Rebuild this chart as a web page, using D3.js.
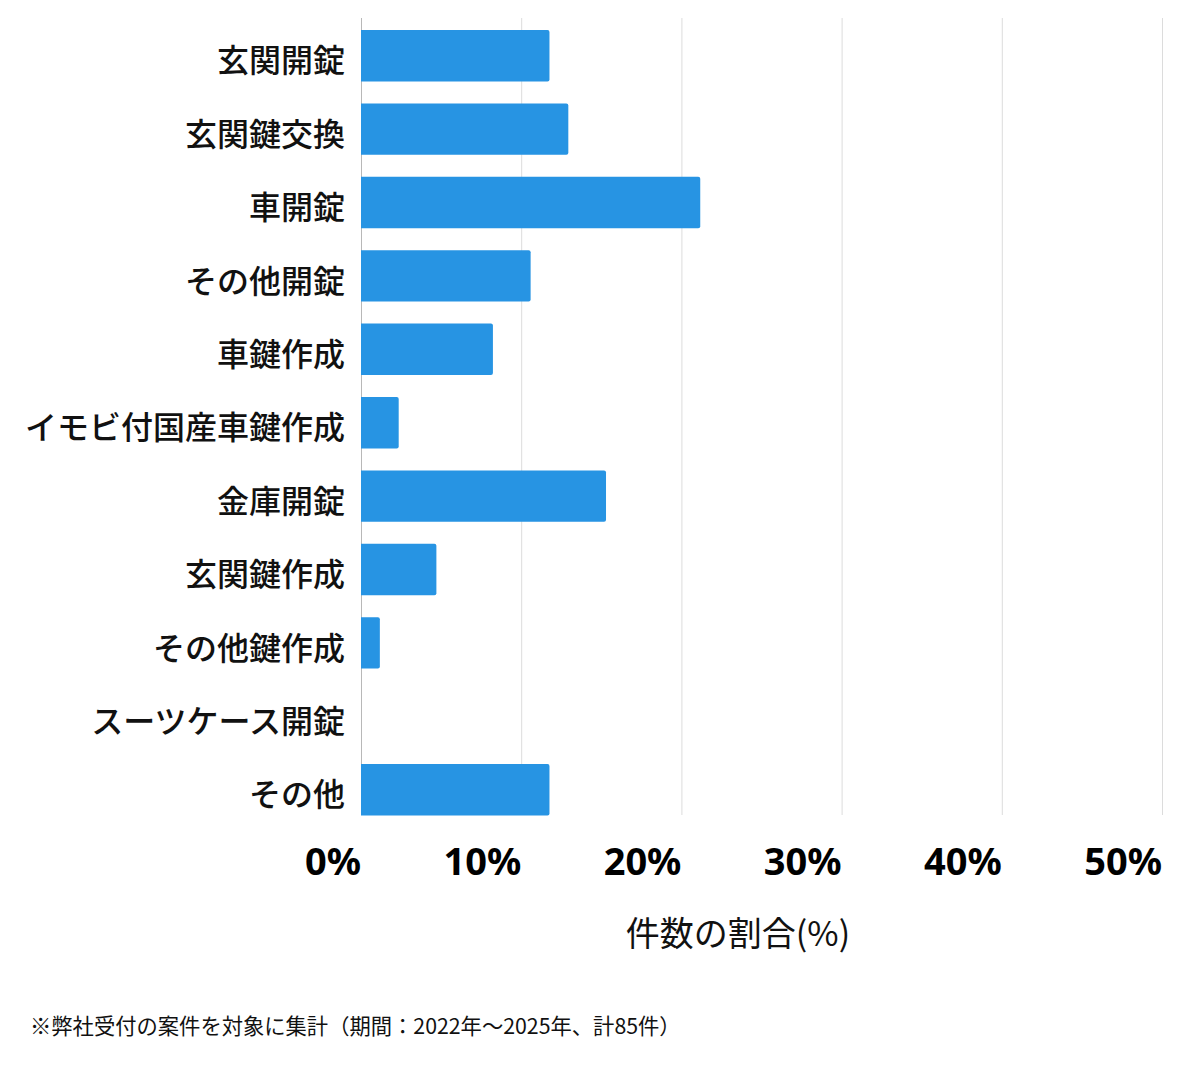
<!DOCTYPE html>
<html><head><meta charset="utf-8">
<script src="https://cdn.jsdelivr.net/npm/d3@7"></script>
<style>body{margin:0;background:#fff;}svg{display:block;}</style>
</head><body>
<svg id="c" width="1200" height="1069"></svg>
<script>
const categories = ["玄関開錠","玄関鍵交換","車開錠","その他開錠","車鍵作成","イモビ付国産車鍵作成","金庫開錠","玄関鍵作成","その他鍵作成","スーツケース開錠","その他"];
const counts = [10,11,18,9,7,2,13,4,1,0,10];
const total = 85;
const values = counts.map(c => c / total * 100);
const tickValues = [0,10,20,30,40,50];
const tickLabels = ["0%","10%","20%","30%","40%","50%"];
const axisTitle = "件数の割合(%)";
const footnote = "※弊社受付の案件を対象に集計（期間：2022年～2025年、計85件）";

const svg = d3.select("#c");
const font = "'Noto Sans CJK JP','Noto Sans',sans-serif";
const x = d3.scaleLinear().domain([0,50]).range([361,1162]);
const y = d3.scaleBand().domain(categories).range([19,826.4]).paddingInner(0.3).paddingOuter(0.15);

// gridlines
svg.append("g").selectAll("line").data(tickValues).join("line")
  .attr("x1", d => x(d)+0.5).attr("x2", d => x(d)+0.5)
  .attr("y1", 18).attr("y2", 815)
  .attr("stroke", d => d === 0 ? "#b8b8b8" : "#dcdcdc").attr("stroke-width", 1);

// bars
const r = 2;
svg.append("g").selectAll("path").data(values).join("path")
  .attr("fill", "#2794e3")
  .attr("d", (d,i) => {
    const x0 = x(0), x1 = x(d), y0 = y(categories[i]), h = y.bandwidth();
    if (x1 - x0 <= 0) return "";
    const rr = Math.min(r, (x1-x0)/2);
    return `M${x0},${y0}H${x1-rr}Q${x1},${y0} ${x1},${y0+rr}V${y0+h-rr}Q${x1},${y0+h} ${x1-rr},${y0+h}H${x0}Z`;
  });

// category labels
svg.append("g").selectAll("text").data(categories).join("text")
  .attr("x", 345).attr("y", d => y(d) + y.bandwidth()/2)
  .attr("dy", "0.52em")
  .attr("text-anchor", "end")
  .attr("font-family", font).attr("font-size", 32).attr("font-weight", 500)
  .attr("fill", "#111").text(d => d);

// tick labels
svg.append("g").selectAll("text").data(tickValues).join("text")
  .attr("x", d => x(d)).attr("y", 875)
  .attr("text-anchor", "end")
  .attr("font-family", "'Noto Sans',sans-serif").attr("font-size", 38).attr("font-weight", 700)
  .attr("fill", "#000").text((d,i) => tickLabels[i]);

// axis title
svg.append("text").attr("x", 738).attr("y", 946).attr("text-anchor", "middle")
  .attr("font-family", font).attr("font-size", 34).attr("fill", "#111").text(axisTitle);

// footnote
svg.append("text").attr("x", 30).attr("y", 1034)
  .attr("font-family", font).attr("font-size", 21.3).attr("fill", "#111").text(footnote);
</script>
</body></html>
